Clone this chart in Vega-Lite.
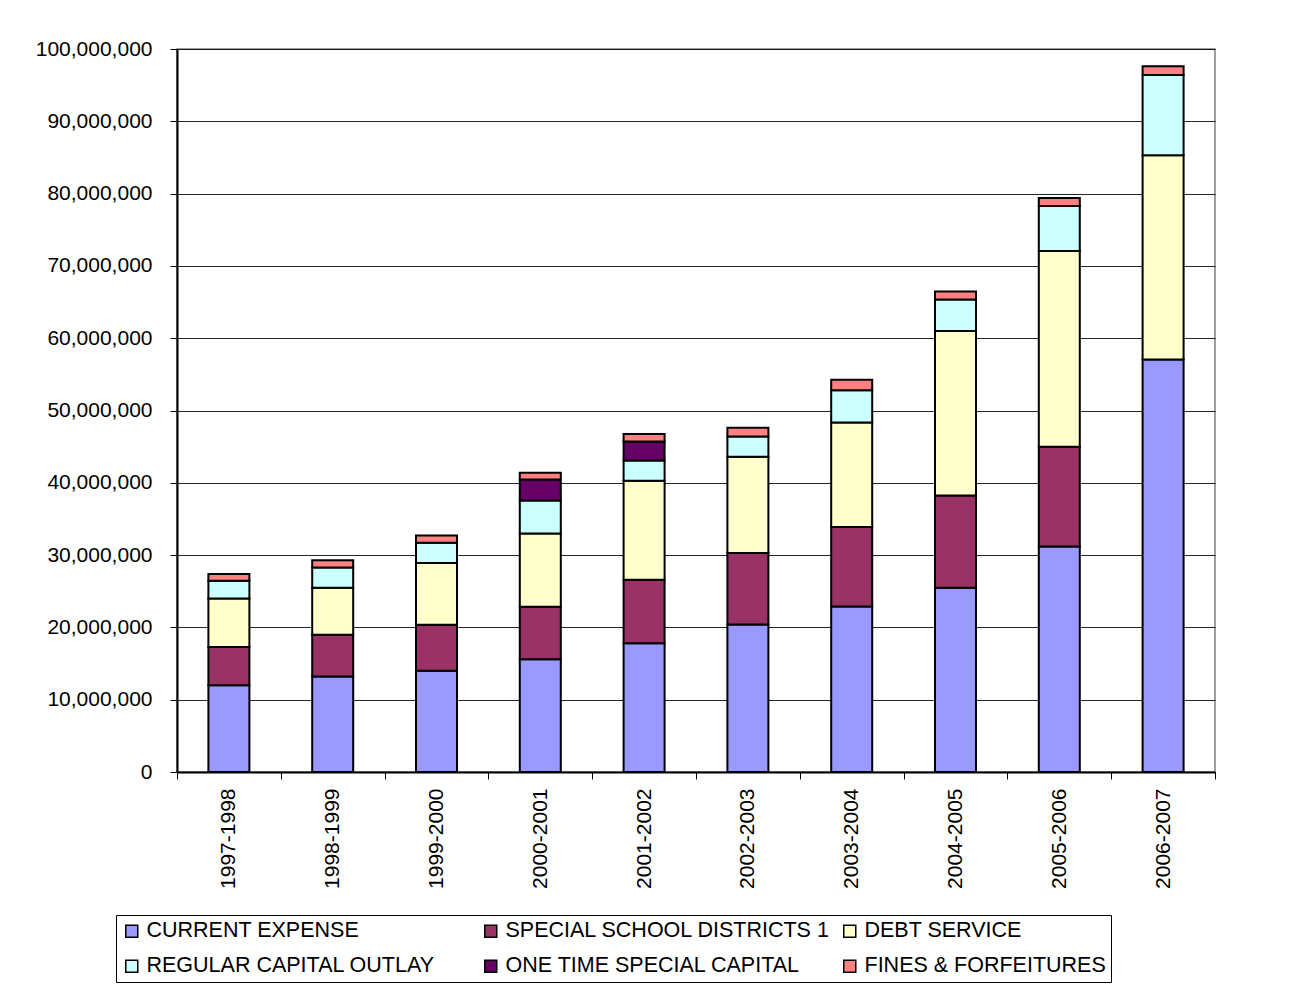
{
  "$schema": "https://vega.github.io/schema/vega-lite/v6.json",
  "width": 1038,
  "height": 723,
  "autosize": "none",
  "padding": {"left": 177, "top": 49, "right": 82, "bottom": 230},
  "background": "white",
  "config": {
    "font": "Liberation Sans",
    "view": {"stroke": "#808080", "strokeWidth": 1.5},
    "axis": {
      "labelFont": "Liberation Sans",
      "labelColor": "black",
      "domainColor": "black",
      "tickColor": "black"
    }
  },
  "data": {
    "values": [
      {"year": "1997-1998", "fund": "CURRENT EXPENSE", "amount": 12000000},
      {"year": "1997-1998", "fund": "SPECIAL SCHOOL DISTRICTS 1", "amount": 5300000},
      {"year": "1997-1998", "fund": "DEBT SERVICE", "amount": 6700000},
      {"year": "1997-1998", "fund": "REGULAR CAPITAL OUTLAY", "amount": 2450000},
      {"year": "1997-1998", "fund": "FINES & FORFEITURES", "amount": 950000},

      {"year": "1998-1999", "fund": "CURRENT EXPENSE", "amount": 13200000},
      {"year": "1998-1999", "fund": "SPECIAL SCHOOL DISTRICTS 1", "amount": 5800000},
      {"year": "1998-1999", "fund": "DEBT SERVICE", "amount": 6500000},
      {"year": "1998-1999", "fund": "REGULAR CAPITAL OUTLAY", "amount": 2800000},
      {"year": "1998-1999", "fund": "FINES & FORFEITURES", "amount": 1000000},

      {"year": "1999-2000", "fund": "CURRENT EXPENSE", "amount": 14000000},
      {"year": "1999-2000", "fund": "SPECIAL SCHOOL DISTRICTS 1", "amount": 6350000},
      {"year": "1999-2000", "fund": "DEBT SERVICE", "amount": 8550000},
      {"year": "1999-2000", "fund": "REGULAR CAPITAL OUTLAY", "amount": 2800000},
      {"year": "1999-2000", "fund": "FINES & FORFEITURES", "amount": 1000000},

      {"year": "2000-2001", "fund": "CURRENT EXPENSE", "amount": 15600000},
      {"year": "2000-2001", "fund": "SPECIAL SCHOOL DISTRICTS 1", "amount": 7250000},
      {"year": "2000-2001", "fund": "DEBT SERVICE", "amount": 10150000},
      {"year": "2000-2001", "fund": "REGULAR CAPITAL OUTLAY", "amount": 4550000},
      {"year": "2000-2001", "fund": "ONE TIME SPECIAL CAPITAL", "amount": 2900000},
      {"year": "2000-2001", "fund": "FINES & FORFEITURES", "amount": 950000},

      {"year": "2001-2002", "fund": "CURRENT EXPENSE", "amount": 17800000},
      {"year": "2001-2002", "fund": "SPECIAL SCHOOL DISTRICTS 1", "amount": 8800000},
      {"year": "2001-2002", "fund": "DEBT SERVICE", "amount": 13700000},
      {"year": "2001-2002", "fund": "REGULAR CAPITAL OUTLAY", "amount": 2800000},
      {"year": "2001-2002", "fund": "ONE TIME SPECIAL CAPITAL", "amount": 2600000},
      {"year": "2001-2002", "fund": "FINES & FORFEITURES", "amount": 1050000},

      {"year": "2002-2003", "fund": "CURRENT EXPENSE", "amount": 20400000},
      {"year": "2002-2003", "fund": "SPECIAL SCHOOL DISTRICTS 1", "amount": 9900000},
      {"year": "2002-2003", "fund": "DEBT SERVICE", "amount": 13300000},
      {"year": "2002-2003", "fund": "REGULAR CAPITAL OUTLAY", "amount": 2800000},
      {"year": "2002-2003", "fund": "FINES & FORFEITURES", "amount": 1200000},

      {"year": "2003-2004", "fund": "CURRENT EXPENSE", "amount": 22900000},
      {"year": "2003-2004", "fund": "SPECIAL SCHOOL DISTRICTS 1", "amount": 11000000},
      {"year": "2003-2004", "fund": "DEBT SERVICE", "amount": 14450000},
      {"year": "2003-2004", "fund": "REGULAR CAPITAL OUTLAY", "amount": 4450000},
      {"year": "2003-2004", "fund": "FINES & FORFEITURES", "amount": 1450000},

      {"year": "2004-2005", "fund": "CURRENT EXPENSE", "amount": 25500000},
      {"year": "2004-2005", "fund": "SPECIAL SCHOOL DISTRICTS 1", "amount": 12750000},
      {"year": "2004-2005", "fund": "DEBT SERVICE", "amount": 22750000},
      {"year": "2004-2005", "fund": "REGULAR CAPITAL OUTLAY", "amount": 4350000},
      {"year": "2004-2005", "fund": "FINES & FORFEITURES", "amount": 1100000},

      {"year": "2005-2006", "fund": "CURRENT EXPENSE", "amount": 31200000},
      {"year": "2005-2006", "fund": "SPECIAL SCHOOL DISTRICTS 1", "amount": 13800000},
      {"year": "2005-2006", "fund": "DEBT SERVICE", "amount": 27050000},
      {"year": "2005-2006", "fund": "REGULAR CAPITAL OUTLAY", "amount": 6250000},
      {"year": "2005-2006", "fund": "FINES & FORFEITURES", "amount": 1100000},

      {"year": "2006-2007", "fund": "CURRENT EXPENSE", "amount": 57050000},
      {"year": "2006-2007", "fund": "DEBT SERVICE", "amount": 28250000},
      {"year": "2006-2007", "fund": "REGULAR CAPITAL OUTLAY", "amount": 11100000},
      {"year": "2006-2007", "fund": "FINES & FORFEITURES", "amount": 1200000}
    ]
  },
  "transform": [
    {
      "calculate": "indexof(['CURRENT EXPENSE','SPECIAL SCHOOL DISTRICTS 1','DEBT SERVICE','REGULAR CAPITAL OUTLAY','ONE TIME SPECIAL CAPITAL','FINES & FORFEITURES'], datum.fund)",
      "as": "stackRank"
    }
  ],
  "mark": {
    "type": "bar",
    "stroke": "black",
    "strokeWidth": 2,
    "width": {"band": 0.395}
  },
  "encoding": {
    "x": {
      "field": "year",
      "type": "nominal",
      "sort": null,
      "scale": {"paddingInner": 0, "paddingOuter": 0},
      "axis": {
        "title": null,
        "labelAngle": 270,
        "labelFontSize": 21,
        "labelPadding": 9,
        "tickSize": 7,
        "tickWidth": 1,
        "tickBand": "extent",
        "domainWidth": 2,
        "grid": false
      }
    },
    "y": {
      "field": "amount",
      "type": "quantitative",
      "stack": "zero",
      "scale": {"domain": [0, 100000000], "nice": false},
      "axis": {
        "title": null,
        "values": [0, 10000000, 20000000, 30000000, 40000000, 50000000, 60000000, 70000000, 80000000, 90000000, 100000000],
        "format": ",.0f",
        "labelFontSize": 21,
        "labelPadding": 18,
        "tickSize": 7,
        "tickWidth": 1,
        "domainWidth": 2,
        "grid": true,
        "gridColor": "black",
        "gridWidth": 1,
        "gridOpacity": 0.85
      }
    },
    "color": {
      "field": "fund",
      "type": "nominal",
      "scale": {
        "domain": ["CURRENT EXPENSE", "SPECIAL SCHOOL DISTRICTS 1", "DEBT SERVICE", "REGULAR CAPITAL OUTLAY", "ONE TIME SPECIAL CAPITAL", "FINES & FORFEITURES"],
        "range": ["#9999FF", "#993366", "#FFFFCC", "#CCFFFF", "#660066", "#FF8080"]
      },
      "legend": {
        "title": null,
        "orient": "none",
        "legendX": -61,
        "legendY": 866,
        "direction": "horizontal",
        "columns": 3,
        "gridAlign": "all",
        "columnPadding": 8,
        "rowPadding": 12.5,
        "padding": 5,
        "strokeColor": "black",
        "fillColor": "white",
        "symbolType": "square",
        "symbolSize": 144,
        "symbolStrokeColor": "black",
        "symbolStrokeWidth": 1.5,
        "symbolOpacity": 1,
        "labelFont": "Liberation Sans",
        "labelFontSize": 21.5,
        "labelColor": "black",
        "labelOffset": 4,
        "labelLimit": 400
      }
    },
    "order": {"field": "stackRank", "type": "quantitative", "sort": "ascending"}
  }
}
